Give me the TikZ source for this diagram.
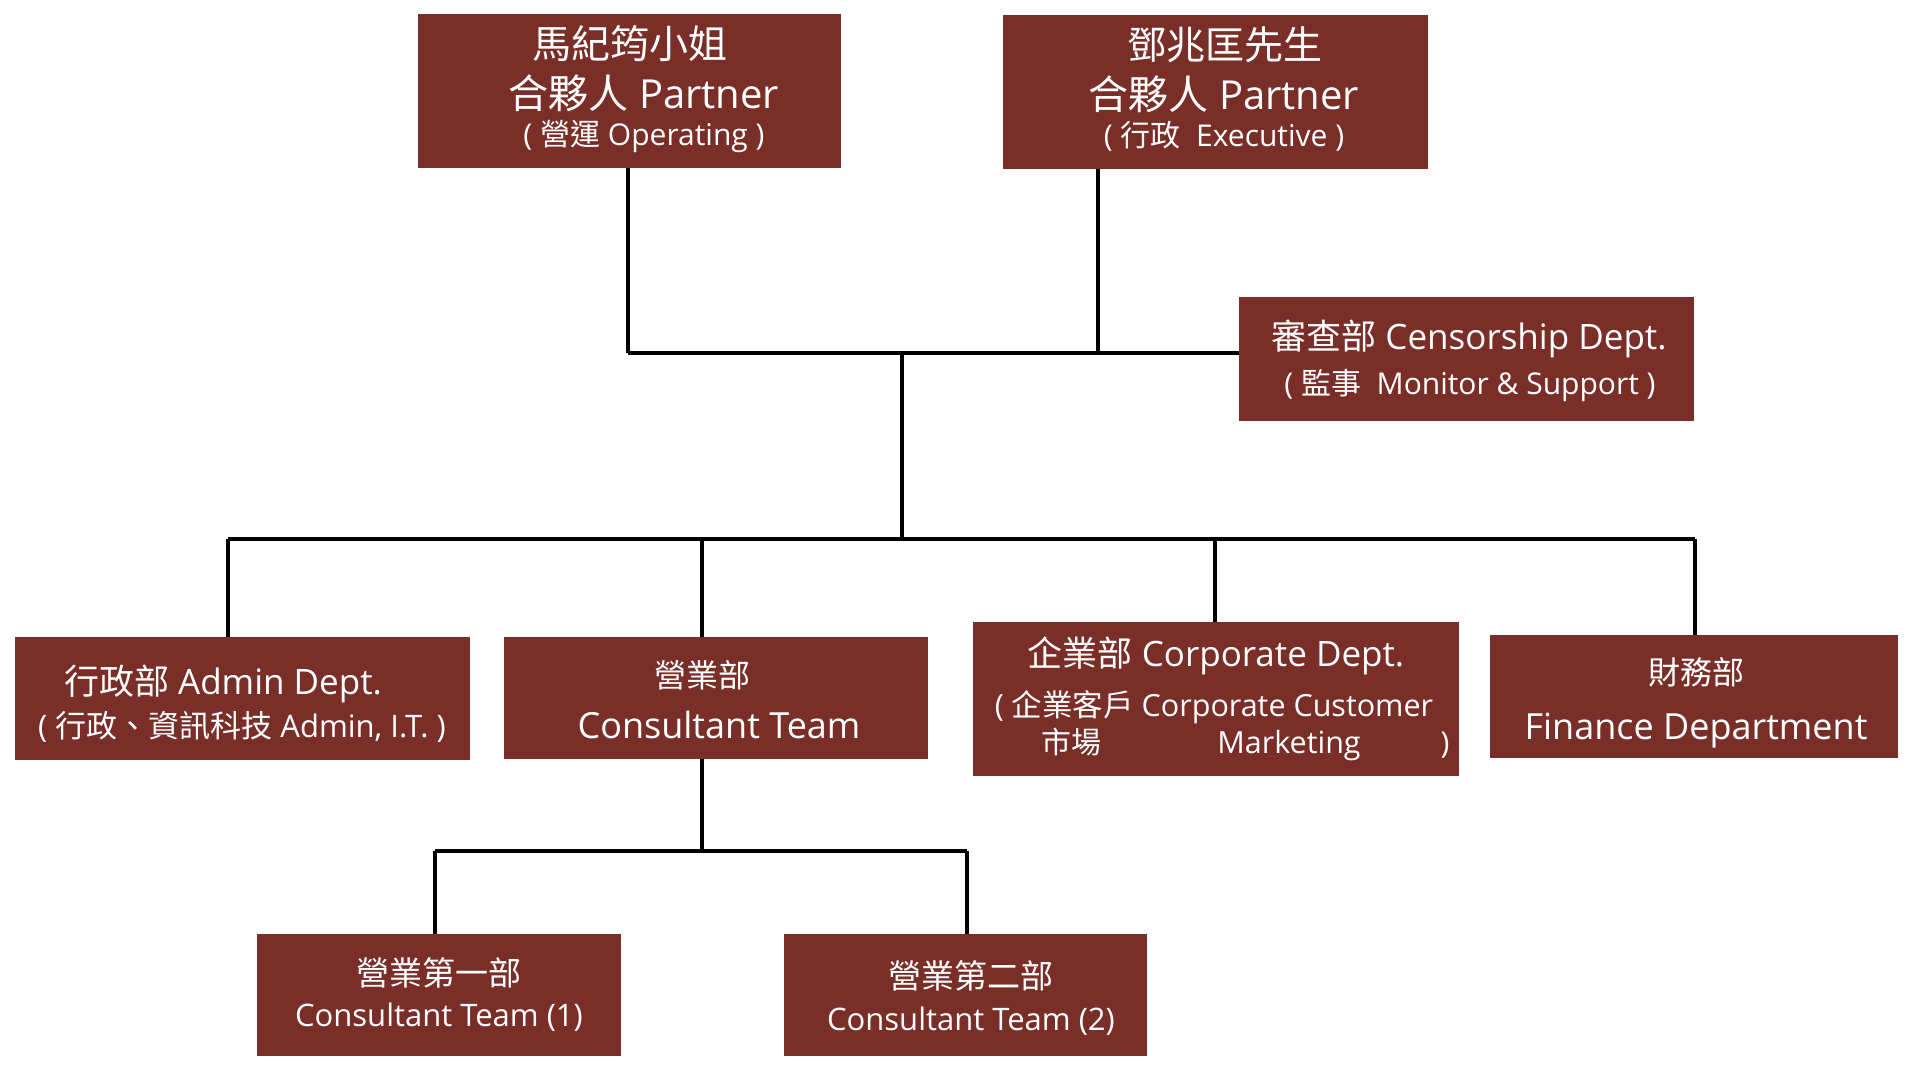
\documentclass[tikz,border=0pt]{standalone}
\usepackage{fontspec}
\setmainfont{Open Sans}
\newfontfamily\cjk{Noto Sans CJK TC}
\newcommand\zh[1]{{\cjk #1}}
\newcommand\fsz[1]{\fontsize{#1}{#1}\selectfont}
\definecolor{boxred}{RGB}{121,46,40}
\begin{document}
\begin{tikzpicture}[x=1pt,y=-1pt,
  box/.style={fill=boxred, draw=none, inner sep=0pt},
  txt/.style={text=white, inner sep=0pt, anchor=base},
  conn/.style={draw=black, line width=3.5pt}]
\useasboundingbox (0,0) rectangle (1920,1070);

% boxes
\node[box, minimum width=423pt, minimum height=154pt] (p1) at (629.5,91) {};
\node[box, minimum width=425pt, minimum height=154pt] (p2) at (1215.5,92) {};
\node[box, minimum width=455pt, minimum height=124pt] (cen) at (1466.5,359) {};
\node[box, minimum width=455pt, minimum height=123pt] (adm) at (242.5,698.5) {};
\node[box, minimum width=424pt, minimum height=122pt] (con) at (716,698) {};
\node[box, minimum width=486pt, minimum height=154pt] (cor) at (1216,699) {};
\node[box, minimum width=408pt, minimum height=123pt] (fin) at (1694,696.5) {};
\node[box, minimum width=364pt, minimum height=122pt] (t1) at (439,995) {};
\node[box, minimum width=363pt, minimum height=122pt] (t2) at (965.5,995) {};

% texts
\node[txt, font=\fsz{39}] (p1a) at (630,59) {\zh{馬紀筠小姐}};
\node[txt, font=\fsz{40}] (p1b) at (644,108.5) {\zh{合夥人} Partner};
\node[txt, font=\fsz{30}] (p1c) at (644,146) {( \zh{營運} Operating )};

\node[txt, font=\fsz{39}] (p2a) at (1225,60) {\zh{鄧兆匡先生}};
\node[txt, font=\fsz{40}] (p2b) at (1224,109.5) {\zh{合夥人} Partner};
\node[txt, font=\fsz{30}] (p2c) at (1224,146.5) {( \zh{行政}\ \ Executive )};

\node[txt, font=\fsz{35}] (cena) at (1469,349) {\zh{審查部} Censorship Dept.};
\node[txt, font=\fsz{30}] (cenb) at (1470,394) {( \zh{監事}\ \ Monitor \& Support )};

\node[txt, font=\fsz{35}] (adma) at (223,694) {\zh{行政部} Admin Dept.};
\node[txt, font=\fsz{31}] (admb) at (242,737) {( \zh{行政、資訊科技} Admin, I.T. )};

\node[txt, font=\fsz{32}] (cona) at (702,687) {\zh{營業部}};
\node[txt, font=\fsz{36}] (conb) at (719,738) {Consultant Team};

\node[txt, font=\fsz{35}] (cora) at (1216,666) {\zh{企業部} Corporate Dept.};
\node[txt, font=\fsz{30.5}] (corb) at (1214,716) {( \zh{企業客戶} Corporate Customer};
\node[txt, font=\fsz{30}] (corc) at (1071,753) {\zh{市場}};
\node[txt, font=\fsz{30.5}] (cord) at (1289,753) {Marketing};
\node[txt, font=\fsz{30}] (core) at (1445,753) {)};

\node[txt, font=\fsz{32}] (fina) at (1696,684) {\zh{財務部}};
\node[txt, font=\fsz{36}] (finb) at (1696,739) {Finance Department};

\node[txt, font=\fsz{33}] (t1a) at (439,985) {\zh{營業第一部}};
\node[txt, font=\fsz{31}] (t1b) at (439,1026) {Consultant Team (1)};
\node[txt, font=\fsz{33}] (t2a) at (971,988) {\zh{營業第二部}};
\node[txt, font=\fsz{31}] (t2b) at (971,1030) {Consultant Team (2)};

% junction coordinates
\coordinate (j1) at (628,353);
\coordinate (j2) at (1098,353);
\coordinate (j3) at (902,353);
\coordinate (k0) at (902,539);
\coordinate (k1) at (228,539);
\coordinate (k2) at (702,539);
\coordinate (k3) at (1215,539);
\coordinate (k4) at (1695,539);
\coordinate (m0) at (702,851);
\coordinate (m1) at (435,851);
\coordinate (m2) at (967,851);

% connectors
\draw[conn] (j1 |- p1.south) -- (j1);
\draw[conn] (j2 |- p2.south) -- (j2);
\draw[conn] (j1) -- (j1 -| cen.west);
\draw[conn] (j3) -- (k0);
\draw[conn] (k1) -- (k4);
\draw[conn] (k1) -- (k1 |- adm.north);
\draw[conn] (k2) -- (k2 |- con.north);
\draw[conn] (k3) -- (k3 |- cor.north);
\draw[conn] (k4) -- (k4 |- fin.north);
\draw[conn] (m0 |- con.south) -- (m0);
\draw[conn] (m1) -- (m2);
\draw[conn] (m1) -- (m1 |- t1.north);
\draw[conn] (m2) -- (m2 |- t2.north);
\end{tikzpicture}
\end{document}
